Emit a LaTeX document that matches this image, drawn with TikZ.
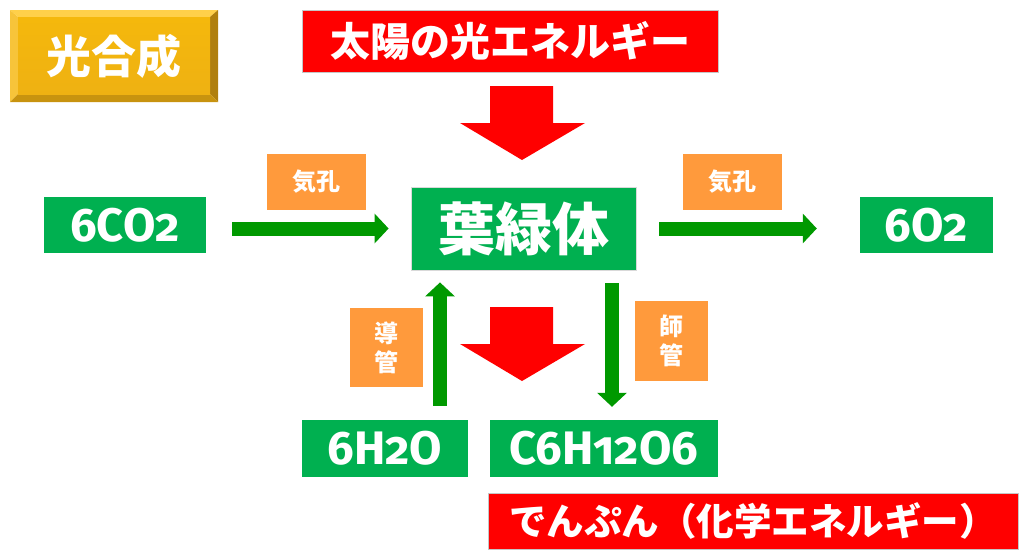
\documentclass[tikz,border=0pt]{standalone}
\usepackage{fontspec}
\usetikzlibrary{arrows.meta,calc}
\newfontfamily\jp{Noto Sans CJK JP}
\newfontfamily\chem[Numbers=OldStyle]{Fira Sans}
\definecolor{myred}{HTML}{FF0000}
\definecolor{mygreen}{HTML}{00B050}
\definecolor{arrgreen}{HTML}{009900}
\definecolor{myorange}{HTML}{FF9A3C}
\definecolor{goldface}{HTML}{F5B80C}
\definecolor{goldtop}{HTML}{FFD04A}
\definecolor{goldleft}{HTML}{F7C43A}
\definecolor{goldright}{HTML}{B07F0E}
\definecolor{goldbottom}{HTML}{C8930F}
\tikzset{
  redbox/.style={fill=myred, draw=gray!45, line width=0.8pt, text=white, inner sep=0pt},
  greenbox/.style={fill=mygreen, text=white, inner sep=0pt},
  orangebox/.style={fill=myorange, text=white, inner sep=0pt, font=\jp\bfseries\fontsize{24}{29}\selectfont, align=center},
  formula/.style={font=\chem\bfseries\fontsize{47}{50}\selectfont},
  garrow/.style={draw=arrgreen, line width=14pt, -{Triangle[width=29pt,length=14pt]}},
  bigarrow/.style={fill=myred},
}
\begin{document}
\begin{tikzpicture}[x=1pt,y=-1pt]
\useasboundingbox (0,0) rectangle (1019,549);
% gold bevel button
\fill[goldtop] (10,10) -- (218,10) -- (210,17) -- (18,17) -- cycle;
\fill[goldleft] (10,10) -- (18,17) -- (18,94) -- (10,102) -- cycle;
\fill[goldright] (218,10) -- (218,102) -- (210,94) -- (210,17) -- cycle;
\fill[goldbottom] (10,102) -- (218,102) -- (210,94) -- (18,94) -- cycle;
\shade[top color=goldface, bottom color=goldface!88!brown] (18,17) rectangle (210,94);
\node[text=white, font=\jp\bfseries\fontsize{45}{48}\selectfont] (title) at (114,56) {光合成};
% red labels
\node[redbox, minimum width=416pt, minimum height=62pt, font=\jp\bfseries\fontsize{40}{44}\selectfont] (sun) at (510,41) {太陽の光エネルギー};
\node[redbox, minimum width=530pt, minimum height=56pt, font=\jp\bfseries\fontsize{37.5}{40}\selectfont] (starch) at (753,521) {でんぷん（化学エネルギー）};
% green boxes
\node[greenbox, minimum width=162pt, minimum height=56pt, formula] (co2) at (125,225) {6CO2};
\node[greenbox, draw=gray!30, line width=0.8pt, minimum width=225pt, minimum height=83pt, font=\jp\bfseries\fontsize{57}{60}\selectfont] (chloro) at (523.5,228.5) {葉緑体};
\node[greenbox, minimum width=133pt, minimum height=56pt, formula] (o2) at (926.5,225) {6O2};
\node[greenbox, minimum width=166pt, minimum height=57pt, formula] (h2o) at (385,448.5) {6H2O};
\node[greenbox, minimum width=228pt, minimum height=57pt, formula] (glu) at (604,448.5) {C6H12O6};
% orange labels
\node[orangebox, minimum width=99pt, minimum height=56pt] (stomaL) at (316.5,182) {気孔};
\node[orangebox, minimum width=99pt, minimum height=56pt] (stomaR) at (732.5,182) {気孔};
\node[orangebox, minimum width=73pt, minimum height=79pt] (xylem) at (386.5,347.5) {導\\管};
\node[orangebox, minimum width=73pt, minimum height=80pt] (phloem) at (671.5,341) {師\\管};
% green arrows
\draw[garrow] ([xshift=26pt]co2.east |- chloro.center) -- ([xshift=-22pt]chloro.west);
\draw[garrow] ([xshift=23pt]chloro.east) -- ([xshift=-43pt]o2.west |- chloro.center);
\draw[garrow] ([xshift=55pt,yshift=14pt]h2o.north) -- ([xshift=-83.5pt,yshift=-12pt]chloro.south);
\draw[garrow] ([xshift=88.5pt,yshift=-13pt]chloro.south) -- ([xshift=8pt,yshift=13pt]glu.north);
% red block arrows
\fill[bigarrow] (490,86) -- (553,86) -- (553,123) -- (585,123) -- (522,160) -- (460,123) -- (490,123) -- cycle;
\fill[bigarrow] (490,307) -- (553,307) -- (553,344) -- (585,344) -- (522,381) -- (460,344) -- (490,344) -- cycle;
\end{tikzpicture}
\end{document}
